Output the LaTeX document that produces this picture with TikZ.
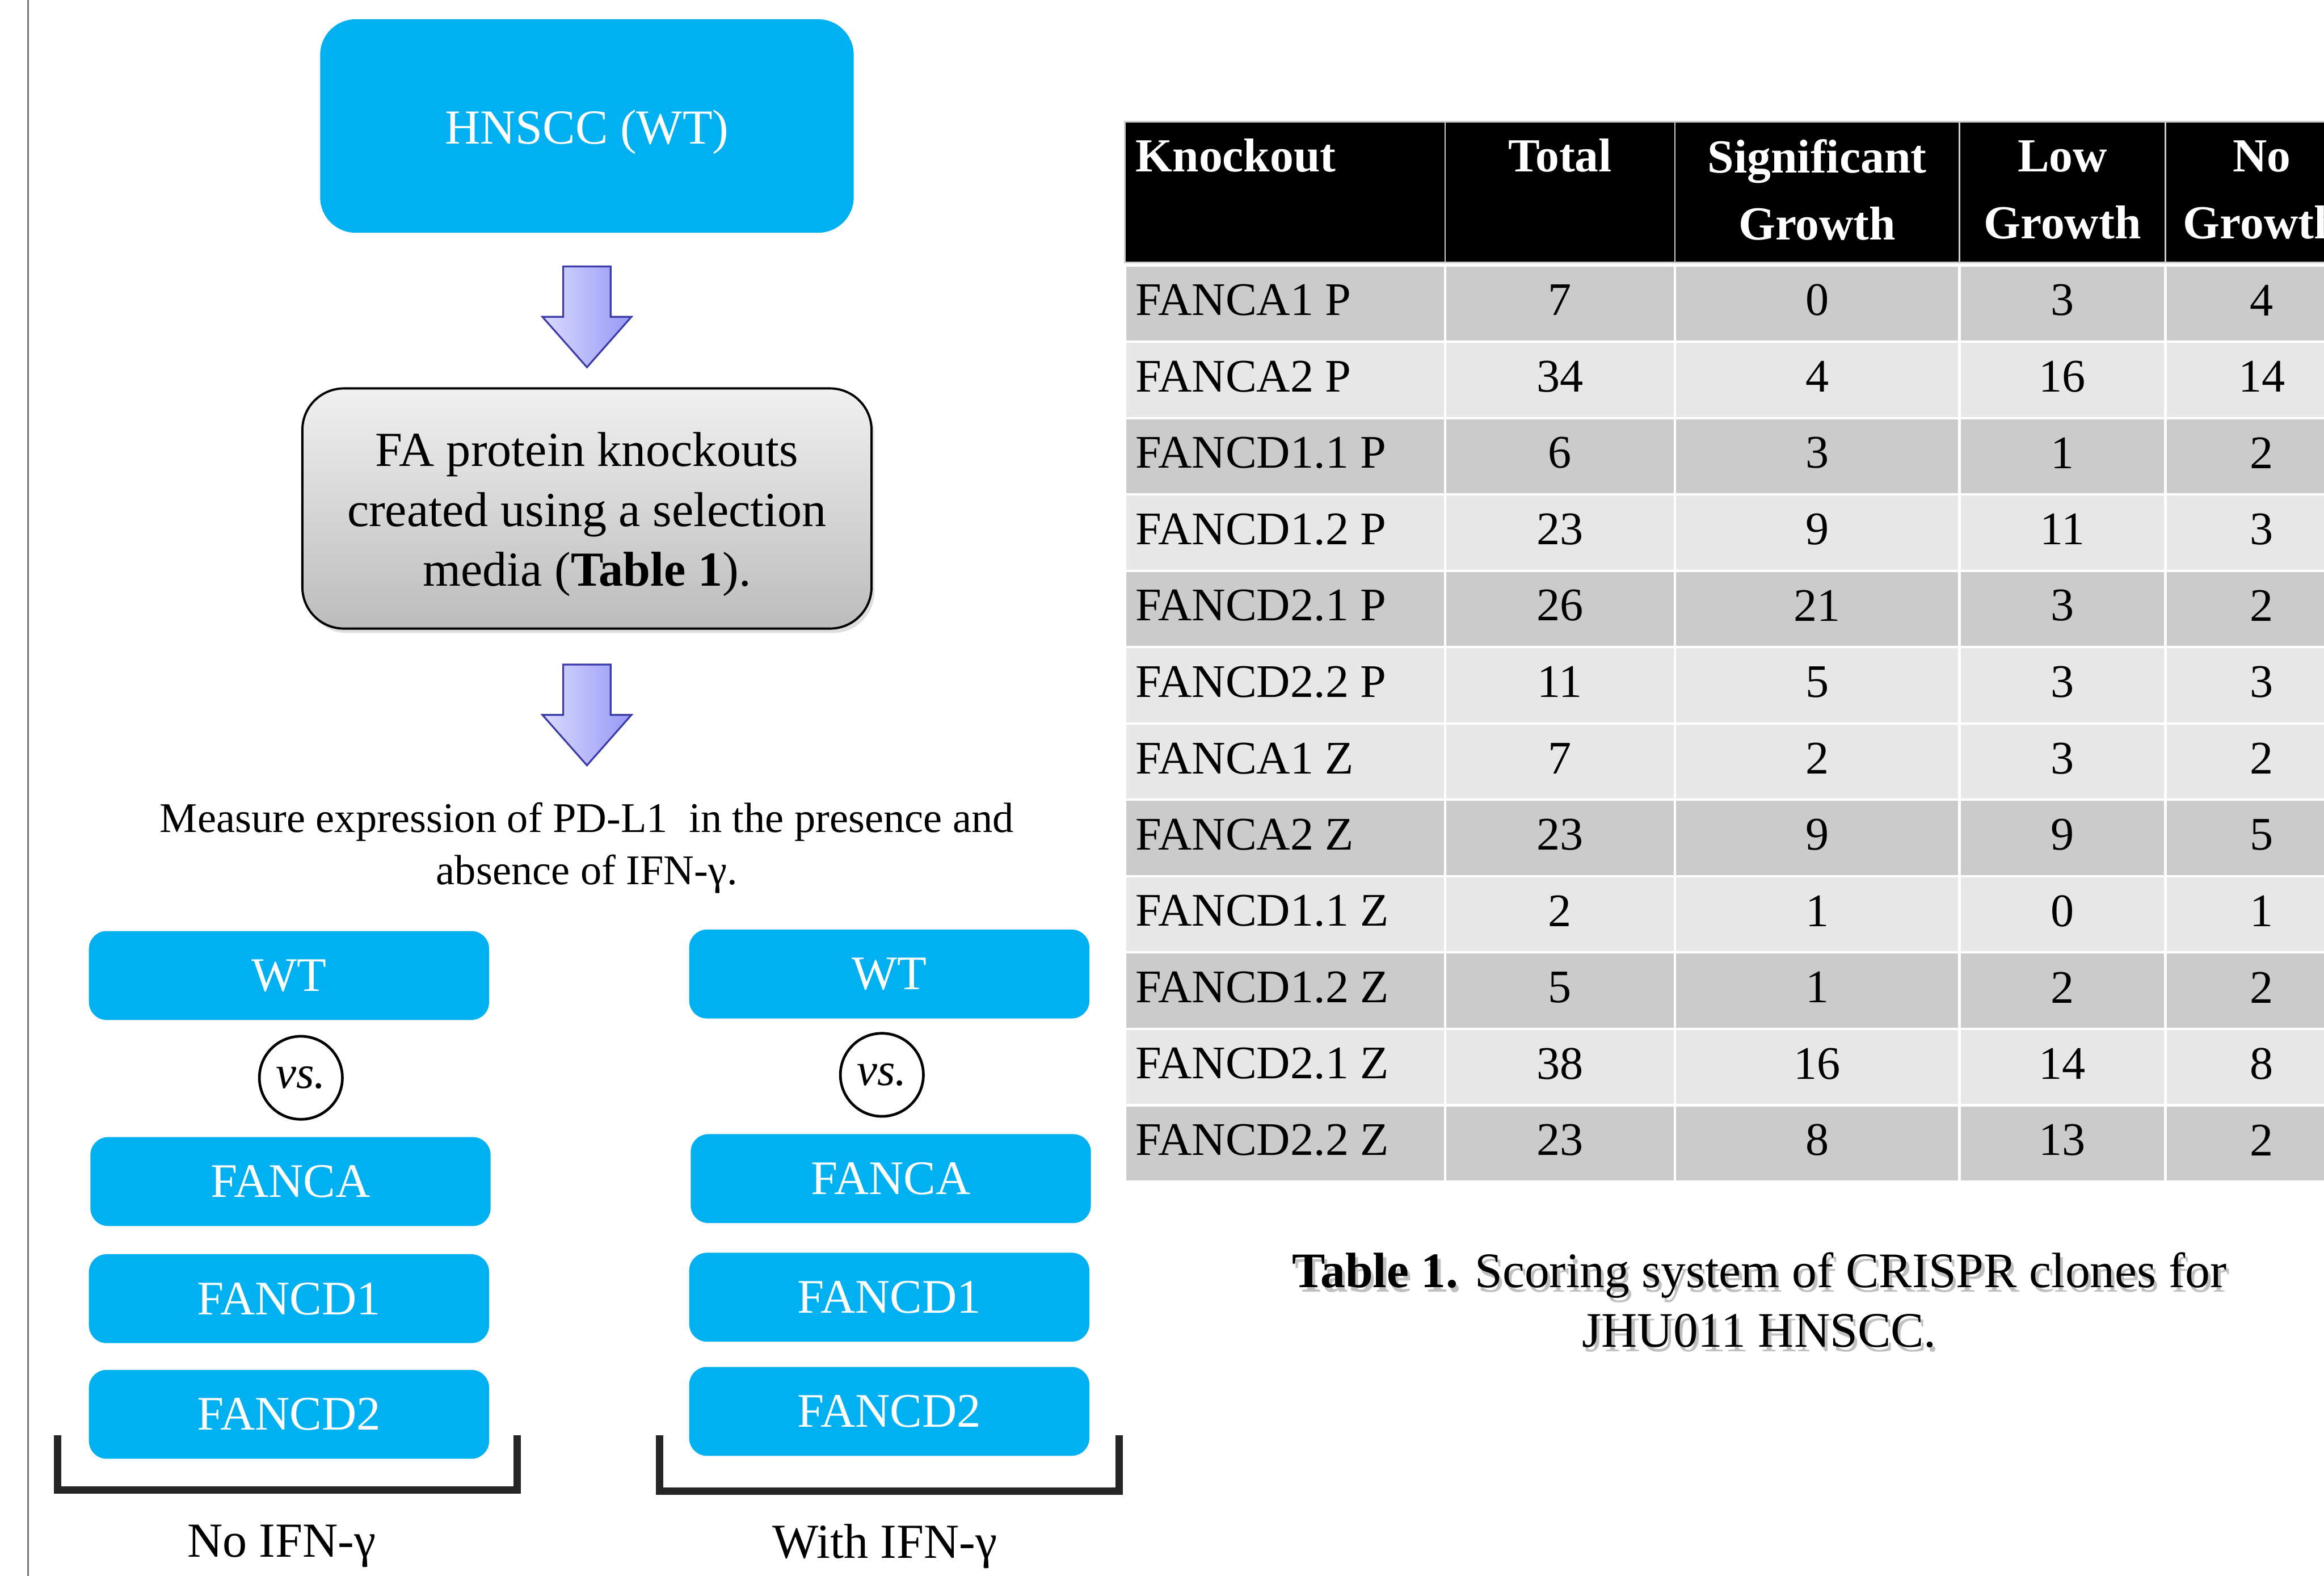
\documentclass[tikz,border=0pt]{standalone}
\usepackage{fontspec}
\setmainfont{Liberation Serif}
\usepackage{tikz}
\usetikzlibrary{shadows, calc, positioning}
\definecolor{mycyan}{RGB}{0,176,240}
\definecolor{arrowleft}{RGB}{218,218,255}
\definecolor{arrowright}{RGB}{150,152,245}
\definecolor{arrowedge}{RGB}{58,58,168}
\definecolor{graytop}{RGB}{240,240,240}
\definecolor{graybot}{RGB}{188,188,188}
\definecolor{rowdark}{RGB}{203,203,203}
\definecolor{rowlight}{RGB}{231,231,231}
\definecolor{mybracket}{RGB}{38,38,38}
\definecolor{myframe}{RGB}{120,120,120}
\definecolor{capshade}{RGB}{150,150,150}
\tikzset{
  topbox/.style={rectangle, fill=mycyan, text=white, minimum width=360pt,
    minimum height=144pt, rounded corners=24pt, font=\fontsize{33}{40}\selectfont},
  graybox/.style={rectangle, draw=black, line width=1.5pt, top color=graytop,
    bottom color=graybot, minimum width=384pt, minimum height=162pt,
    rounded corners=28pt, align=center, font=\fontsize{33}{40.5}\selectfont,
    drop shadow={opacity=0.25, shadow xshift=2pt, shadow yshift=-3pt}},
  cyanbox/.style={rectangle, fill=mycyan, text=white, minimum width=270pt,
    minimum height=60pt, rounded corners=12pt, font=\fontsize{32.5}{38}\selectfont},
  vscircle/.style={circle, draw=black, line width=1.8pt, minimum size=56pt,
    inner sep=0pt, font=\fontsize{31}{34}\selectfont\itshape},
  blockarrow/.style={draw=arrowedge, line width=1.2pt, left color=arrowleft,
    right color=arrowright, line join=miter},
  plaintext/.style={align=center, inner sep=0pt},
  bracket/.style={draw=mybracket, line width=5pt, line join=miter},
  hdrcell/.style={draw=white!80!black, line width=1pt, fill=black},
  bodybox/.style={draw=white, line width=1.6pt},
  hdrtext/.style={text=white, inner sep=0pt, align=center,
    font=\fontsize{32}{45}\selectfont\bfseries},
  bodytext/.style={inner sep=0pt, font=\fontsize{31.5}{36}\selectfont}
}

\begin{document}
\begin{tikzpicture}[x=1pt, y=-1pt]
  \clip (0,0) rectangle (1568,1063);
  \fill[white] (0,0) rectangle (1568,1063);
  \draw[myframe, line width=1.2pt] (19,0) -- (19,1063);

  % Flow chart
  \node[topbox] (hnscc) at (396,85) {};
  \node[plaintext, text=white, font=\fontsize{33}{40}\selectfont] (hnscctext) at (396,89) {HNSCC (WT)};
  \node[graybox] (fabox) at (396,343) {};
  \node[plaintext, font=\fontsize{33}{40.5}\selectfont] (fatext) at (396,347)
    {FA protein knockouts\\created using a selection\\media (\textbf{Table 1}).};
  \node[plaintext, font=\fontsize{28.5}{35}\selectfont] (measure) at (396,572)
    {Measure expression of PD-L1 \ in the presence and\\absence of IFN-γ.};

  \coordinate (a1) at ($(hnscc.south)!0.5!(fabox.north)+(0,4.5)$);
  \coordinate (a2) at ($(fabox.south)+(0,57.5)$);
  \foreach \a in {a1, a2}
    \draw[blockarrow] ($(\a)+(-16,-34)$) -- ++(32,0) -- ++(0,34) -- ++(14,0)
      -- ++(-30,34) -- ++(-30,-34) -- ++(14,0) -- cycle;

  % Two comparison columns
  \node[cyanbox] (wtl) at (195,658) {WT};
  \node[vscircle] (vsl) at (203,727) {vs.};
  \node[cyanbox] (fancal) at (196,797) {FANCA};
  \node[cyanbox] (fancdal) at (195,876) {FANCD1};
  \node[cyanbox] (fancdbl) at (195,954) {FANCD2};

  \node[cyanbox] (wtr) at (600,657) {WT};
  \node[vscircle] (vsr) at (595,725) {vs.};
  \node[cyanbox] (fancar) at (601,795) {FANCA};
  \node[cyanbox] (fancdar) at (600,875) {FANCD1};
  \node[cyanbox] (fancdbr) at (600,952) {FANCD2};

  \draw[bracket] (39,968) -- (39,1005) -- (349,1005) -- (349,968);
  \draw[bracket] (445,968) -- (445,1006) -- (755,1006) -- (755,968);
  \node[plaintext, font=\fontsize{33}{38}\selectfont] (noifn) at (190,1043) {No IFN-γ};
  \node[plaintext, font=\fontsize{33}{38}\selectfont] (withifn) at (597,1043) {With IFN-γ};

  % Table header
  \foreach \xa/\xb in {759/975, 975/1130, 1130/1322, 1322/1461, 1461/1591}
    \draw[hdrcell] (\xa,82) rectangle (\xb,177);
  \node[hdrtext, anchor=west] (hko) at (766,105) {Knockout};
  \node[hdrtext] (htot) at (1052.5,105) {Total};
  \node[hdrtext] (hsig) at (1226,128) {Significant\\Growth};
  \node[hdrtext] (hlow) at (1391.5,128) {Low\\Growth};
  \node[hdrtext] (hno) at (1526,128) {No\\Growth};

  % Table rows
  \foreach \kname/\ntot/\nsig/\nlow/\nno/\shade [count=\i] in {
      FANCA1 P/7/0/3/4/rowdark, FANCA2 P/34/4/16/14/rowlight,
      FANCD1.1 P/6/3/1/2/rowdark, FANCD1.2 P/23/9/11/3/rowlight,
      FANCD2.1 P/26/21/3/2/rowdark, FANCD2.2 P/11/5/3/3/rowlight,
      FANCA1 Z/7/2/3/2/rowlight, FANCA2 Z/23/9/9/5/rowdark,
      FANCD1.1 Z/2/1/0/1/rowlight, FANCD1.2 Z/5/1/2/2/rowdark,
      FANCD2.1 Z/38/16/14/8/rowlight, FANCD2.2 Z/23/8/13/2/rowdark} {
    \pgfmathsetmacro{\ya}{179+51.5*(\i-1)}
    \pgfmathsetmacro{\yb}{\ya+51.5}
    \pgfmathsetmacro{\ym}{\ya+23.5}
    \foreach \xa/\xb in {759/975, 975/1130, 1130/1322, 1322/1461, 1461/1591}
      \draw[bodybox, fill=\shade] (\xa,\ya) rectangle (\xb,\yb);
    \node[bodytext, anchor=west] (ko\i) at (766,\ym) {\kname};
    \node[bodytext] (tot\i) at (1052.5,\ym) {\ntot};
    \node[bodytext] (sig\i) at (1226,\ym) {\nsig};
    \node[bodytext] (low\i) at (1391.5,\ym) {\nlow};
    \node[bodytext] (no\i) at (1526,\ym) {\nno};
  }

  % Caption
  \node[plaintext, text=capshade, opacity=0.6, font=\fontsize{33.5}{40}\selectfont]
    (capshadow) at (1189,880) {\textbf{Table 1.} Scoring system of CRISPR clones for\\JHU011 HNSCC.};
  \node[plaintext, font=\fontsize{33.5}{40}\selectfont]
    (caption) at (1187,877) {\textbf{Table 1.} Scoring system of CRISPR clones for\\JHU011 HNSCC.};
\end{tikzpicture}
\end{document}
